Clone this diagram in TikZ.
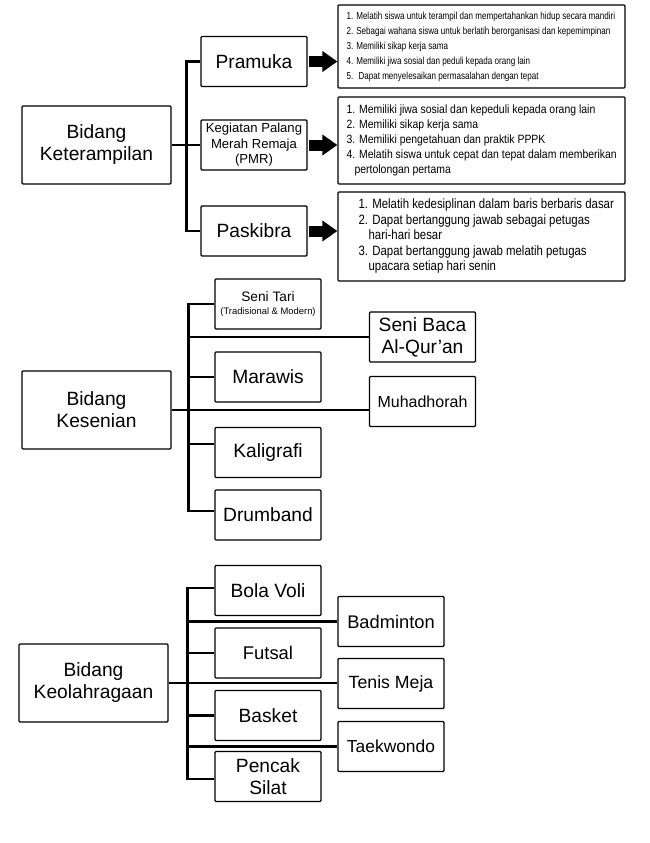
\documentclass[tikz,border=0pt]{standalone}
\usepackage{fontspec}
\setmainfont{Liberation Sans}
\newfontfamily\mainF{Liberation Sans}
\newfontfamily\listA[FakeStretch=0.79]{Liberation Sans}
\newfontfamily\listB[FakeStretch=0.87]{Liberation Sans}
\newfontfamily\listC[FakeStretch=0.845]{Liberation Sans}
\usetikzlibrary{arrows.meta}
\tikzset{
  box/.style={draw=black, line width=1.2pt, rounded corners=1pt, align=center, inner sep=0pt,
    minimum width=106pt, minimum height=50pt, font=\mainF\fontsize{19.2}{22}\selectfont},
  bigbox/.style={box, minimum width=149pt, minimum height=78pt},
  listbox/.style={draw=black, line width=1.2pt, rounded corners=1pt, minimum width=287pt, inner sep=0pt},
  listtext/.style={anchor=west, align=left, inner sep=0pt},
  bus/.style={line width=2.6pt, line join=miter},
  blockarrow/.style={line width=11pt, -{Triangle[length=15pt,width=20pt]}}
}
\begin{document}
\begin{tikzpicture}[x=1pt,y=-1pt]
\useasboundingbox (0,0) rectangle (650,843);

% ---------- Bidang Keterampilan ----------
\node[bigbox] (ket) at (96.5,145) {Bidang\\Keterampilan};
\node[box] (pramuka) at (254,61.5) {Pramuka};
\node[box, font=\mainF\fontsize{13.1}{15.5}\selectfont] (pmr) at (254,145) {Kegiatan Palang\\Merah Remaja\\(PMR)};
\node[box] (paskibra) at (254,231) {Paskibra};

\draw[bus] (pramuka.west) -- ++(-14,0) |- (paskibra.west);
\draw[bus] (ket.east) -- (pmr.west);

\node[listbox, minimum height=83pt] (lPramuka) at (481.5,46.5) {};
\node[listtext, font=\listA\fontsize{10.2}{15}\selectfont] (tPramuka) at ([xshift=9pt]lPramuka.west)
  {1. Melatih siswa untuk terampil dan mempertahankan hidup secara mandiri\\
   2. Sebagai wahana siswa untuk berlatih berorganisasi dan kepemimpinan\\
   3. Memiliki sikap kerja sama\\
   4. Memiliki jiwa sosial dan peduli kepada orang lain\\
   5.~ Dapat menyelesaikan permasalahan dengan tepat};

\node[listbox, minimum height=87pt] (lPmr) at (481.5,140.5) {};
\node[listtext, font=\listB\fontsize{12}{15}\selectfont] (tPmr) at ([xshift=9pt]lPmr.west)
  {1. Memiliki jiwa sosial dan kepeduli kepada orang lain\\
   2. Memiliki sikap kerja sama\\
   3. Memiliki pengetahuan dan praktik PPPK\\
   4. Melatih siswa untuk cepat dan tepat dalam memberikan\\
   \hspace*{8pt}pertolongan pertama};

\node[listbox, minimum height=89pt] (lPaskibra) at (481.5,236.5) {};
\node[listtext, font=\listC\fontsize{13.5}{15.5}\selectfont] (tPaskibra) at ([xshift=21pt]lPaskibra.west)
  {1. Melatih kedesiplinan dalam baris berbaris dasar\\
   2. Dapat bertanggung jawab sebagai petugas\\
   \hspace*{10pt}hari-hari besar\\
   3. Dapat bertanggung jawab melatih petugas\\
   \hspace*{10pt}upacara setiap hari senin};

\draw[blockarrow] ([xshift=1pt]pramuka.east) -- (pramuka.east -| lPramuka.west);
\draw[blockarrow] ([xshift=1pt]pmr.east) -- (pmr.east -| lPmr.west);
\draw[blockarrow] ([xshift=1pt]paskibra.east) -- (paskibra.east -| lPaskibra.west);

% ---------- Bidang Kesenian ----------
\node[bigbox] (kes) at (96.5,410) {Bidang\\Kesenian};
\node[box, font=\mainF\fontsize{9.4}{13}\selectfont] (tari) at (268,304)
  {{\fontsize{13.7}{13}\selectfont Seni Tari}\\(Tradisional \& Modern)};
\node[box] (baca) at (422.5,337) {Seni Baca\\Al-Qur’an};
\node[box] (marawis) at (268,377) {Marawis};
\node[box, font=\mainF\fontsize{16}{19}\selectfont] (muha) at (422.5,401.5) {Muhadhorah};
\node[box] (kali) at (268,452.5) {Kaligrafi};
\node[box] (drum) at (268,515) {Drumband};

\coordinate (mbus) at (189,410);
\coordinate (kaliIn) at ([yshift=8.5pt]kali.west);
\coordinate (drumIn) at ([yshift=4pt]drum.west);
\draw[bus] (tari.west) -- ++(-26,0) |- (drumIn);
\draw[bus] (kes.east) -- (kes.east -| muha.west);
\draw[bus] (mbus |- baca.west) -- (baca.west);
\draw[bus] (mbus |- marawis.west) -- (marawis.west);
\draw[bus] (mbus |- kaliIn) -- (kaliIn);

% ---------- Bidang Keolahragaan ----------
\node[bigbox] (olah) at (93.5,683) {Bidang\\Keolahragaan};
\node[box] (voli) at (268,590.5) {Bola Voli};
\node[box, font=\mainF\fontsize{18.3}{22}\selectfont] (badm) at (391,621.5) {Badminton};
\node[box, font=\mainF\fontsize{18.4}{22}\selectfont] (futsal) at (268,653) {Futsal};
\node[box, font=\mainF\fontsize{17.7}{22}\selectfont] (tenis) at (391,683.5) {Tenis Meja};
\node[box] (basket) at (268,715.5) {Basket};
\node[box, font=\mainF\fontsize{17.4}{22}\selectfont] (taek) at (391,746.5) {Taekwondo};
\node[box] (silat) at (268,776.5) {Pencak\\Silat};

\coordinate (obus) at (188,683);
\coordinate (voliIn) at ([yshift=2.5pt]voli.west);
\coordinate (silatIn) at ([yshift=-2.5pt]silat.west);
\draw[bus] (voliIn) -- ++(-27,0) |- (silatIn);
\draw[bus] (olah.east) -- (olah.east -| tenis.west);
\draw[bus] (obus |- badm.west) -- (badm.west);
\draw[bus] (obus |- futsal.west) -- (futsal.west);
\draw[bus] (obus |- basket.west) -- (basket.west);
\draw[bus] (obus |- taek.west) -- (taek.west);
\end{tikzpicture}
\end{document}
